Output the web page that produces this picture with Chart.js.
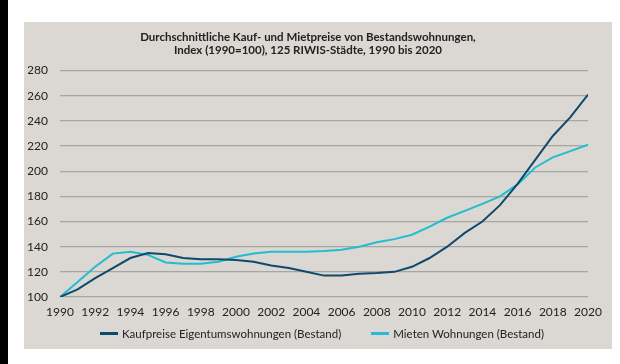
<!DOCTYPE html>
<html>
<head>
<meta charset="utf-8">
<script src="https://cdn.jsdelivr.net/npm/chart.js@4.4.1/dist/chart.umd.min.js"></script>
<style>
  html, body { margin: 0; padding: 0; background: #fff; }
  body { width: 620px; height: 364px; position: relative; overflow: hidden; }
  #strip { position: absolute; left: 0; top: 0; width: 8px; height: 364px; background: #000; }
  #panel { position: absolute; left: 24px; top: 22px; width: 588px; height: 327px; background: #dbd7d2; }
  #chart { display: block; }
  #legend { position: absolute; left: 0; top: 302px; width: 580px; padding-left: 8px; height: 18px;
            display: flex; justify-content: center; align-items: center;
            font-family: Lato, "Open Sans", sans-serif; font-size: 11.5px; color: #222; }
  .item { display: flex; align-items: center; }
  .item + .item { margin-left: 30px; }
  .swatch { width: 18px; height: 3px; margin-right: 4px; }
</style>
</head>
<body>
<div id="strip"></div>
<div id="panel"><canvas id="chart" width="588" height="327"></canvas><div id="legend"></div></div>
<script>
  // years 1990..2020
  const years = [1990,1991,1992,1993,1994,1995,1996,1997,1998,1999,2000,2001,2002,2003,2004,2005,
                 2006,2007,2008,2009,2010,2011,2012,2013,2014,2015,2016,2017,2018,2019,2020];
  const kaufpreise = [100,106,115,123,131,135,134,131,130,130,129.5,128,125,123,120,117,
                      117,118.5,119,120,124,131,140,151,160,173,190,209,228,243,261];
  const mieten = [100,112,124,134.5,136,133.5,127.5,126.5,126.5,128,132,134.5,136,136,136,136.5,
                  137.5,140,143.5,146,149.5,156,163,168.5,174,180,189.5,203,211,216,221];
  const titleLines = ['Durchschnittliche Kauf- und Mietpreise von Bestandswohnungen,',
                      'Index (1990=100), 125 RIWIS-Städte, 1990 bis 2020'];
  const seriesNames = ['Kaufpreise Eigentumswohnungen (Bestand)', 'Mieten Wohnungen (Bestand)'];
  const seriesColors = ['#0f4a6c', '#22bdd0'];

  const FONT = 'Lato, "Open Sans", sans-serif';

  function toPoints(vals) {
    return years.map((y, i) => ({ x: y, y: vals[i] }));
  }

  const ctx = document.getElementById('chart').getContext('2d');
  const chart = new Chart(ctx, {
    type: 'line',
    data: {
      datasets: [kaufpreise, mieten].map((vals, i) => ({
        label: seriesNames[i],
        data: toPoints(vals),
        borderColor: seriesColors[i],
        backgroundColor: seriesColors[i],
        borderWidth: 2,
        pointRadius: 0,
        tension: 0
      }))
    },
    options: {
      responsive: false,
      animation: false,
      layout: { padding: { left: 4, right: 24, top: 6, bottom: 28 } },
      plugins: {
        title: {
          display: true,
          text: titleLines,
          color: '#222',
          font: { family: FONT, size: 11.5, weight: 'bold' },
          padding: { top: 2, bottom: 13 },
          lineHeight: 1.55
        },
        legend: { display: false },
        tooltip: { enabled: false }
      },
      scales: {
        x: {
          type: 'linear',
          min: 1990,
          max: 2020,
          afterFit: s => { s.height = 24; },
          grid: { display: false, drawTicks: false },
          border: { display: false },
          ticks: {
            stepSize: 2,
            color: '#222',
            font: { family: FONT, size: 12 },
            maxRotation: 0,
            padding: 8,
            callback: v => String(v)
          }
        },
        y: {
          min: 100,
          max: 280,
          afterFit: s => { s.width = 32; },
          grid: { color: '#a8a6a3', lineWidth: 1.3, drawTicks: false },
          border: { display: false },
          ticks: {
            stepSize: 20,
            color: '#222',
            font: { family: FONT, size: 12 },
            padding: 12
          }
        }
      }
    }
  });

  // legend built from the same series names / colours
  const legendEl = document.getElementById('legend');
  seriesNames.forEach((name, i) => {
    const item = document.createElement('div');
    item.className = 'item';
    const sw = document.createElement('span');
    sw.className = 'swatch';
    sw.style.background = seriesColors[i];
    const txt = document.createElement('span');
    txt.textContent = name;
    item.appendChild(sw);
    item.appendChild(txt);
    legendEl.appendChild(item);
  });
</script>
</body>
</html>
